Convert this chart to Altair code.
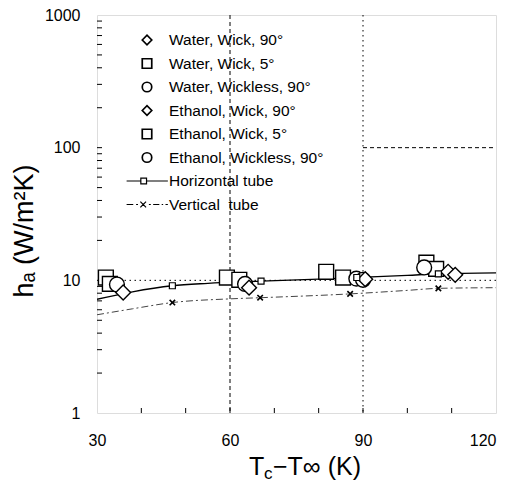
import altair as alt
import pandas as pd

FONT = "Liberation Sans"

# ---- legend labels (series) ----
labels = ["Water, Wick, 90°", "Water, Wick, 5°", "Water, Wickless, 90°",
          "Ethanol, Wick, 90°", "Ethanol, Wick, 5°", "Ethanol, Wickless, 90°",
          "Horizontal tube", "Vertical\u00a0 tube"]

# ---- measured points (T_c - T_inf [K], h_a [W/m2K]) ----
water_wick90_x = [35.9, 90.5, 109.2]
water_wick90_y = [8.1, 10.2, 11.6]
water_wick5_x = [32.0, 59.3, 81.7, 104.3]
water_wick5_y = [10.5, 10.5, 11.6, 13.6]
water_wickless_x = [34.5, 63.4, 88.5]
water_wickless_y = [9.3, 9.4, 10.3]
eth_wick90_x = [64.3, 110.8]
eth_wick90_y = [8.8, 11.0]
eth_wick5_x = [32.9, 62.1, 85.5, 106.5]
eth_wick5_y = [9.4, 10.1, 10.5, 12.2]
eth_wickless_x = [90.0, 103.8]
eth_wickless_y = [10.1, 12.5]

# ---- correlation curves ----
horiz_x = [30, 38, 47, 55, 60, 67, 80, 88.6, 100, 107, 120]
horiz_y = [7.2, 8.2, 9.1, 9.5, 9.7, 9.85, 10.2, 10.5, 10.9, 11.2, 11.4]
horiz_mark_x = [47, 67, 88.6, 107]
horiz_mark_y = [9.1, 9.85, 10.5, 11.2]
vert_x = [30, 38, 47, 60, 67, 87, 100, 107, 120]
vert_y = [5.5, 6.1, 6.8, 7.25, 7.4, 7.9, 8.4, 8.7, 8.8]
vert_mark_x = [47, 66.8, 87.1, 107]
vert_mark_y = [6.8, 7.4, 7.9, 8.7]

# ---- axis values ----
x_labels = [30, 60, 90, 120]
y_labels = [1, 10, 100, 1000]
x_minor = [40, 50, 60, 70, 80, 90, 100, 110]
y_minor = [m * d for d in (1, 10, 100) for m in range(2, 10)] + [10, 100]
x_grid_dash = [60]
x_grid_dot = [90]
y_grid_dot = [10]
y_grid_dash = [100]
y_grid_dash_from = [90]
y_grid_dash_to = [120]

H_PATH = "M-4.3,0H-1.3M-0.1,0H4.4M-1.3,-0.6H-0.1V0.6H-1.3Z"
V_PATH = ("M-4.3,0H-2.9M-2.3,0H-1.9M-1.4,-0.6L-0.2,0.6M-1.4,0.6L-0.2,-0.6"
          "M0.4,0H0.8M1.3,0H2.6M3.1,0H3.4M3.9,0H4.4")
shape_range = ["diamond", "square", "circle", "diamond", "square", "circle", H_PATH, V_PATH]

series_xy = [(water_wick5_x, water_wick5_y, labels[1]),
             (eth_wick5_x, eth_wick5_y, labels[4]),
             (water_wickless_x, water_wickless_y, labels[2]),
             (eth_wickless_x, eth_wickless_y, labels[5]),
             (water_wick90_x, water_wick90_y, labels[0]),
             (eth_wick90_x, eth_wick90_y, labels[3])]
rows = []
for xs, ys, lab in series_xy:
    for a, b in zip(xs, ys):
        rows.append({"series": lab, "x": a, "y": b})
pts = pd.DataFrame(rows)

H = 398
xscale = alt.Scale(domain=[30, 120], nice=False, zero=False)
yscale = alt.Scale(type="log", domain=[1, 1000], nice=False)
xaxis = alt.Axis(values=x_labels, title=None, grid=False, domain=False, ticks=False,
                 labelFlush=False, labelOverlap=False,
                 labelAlign=alt.ConditionalAxisLabelAlign(
                     condition={"test": "datum.value >= 120", "value": "right"}, value="center"),
                 labelFont=FONT, labelFontSize=16, labelColor="black", labelPadding=19)
yaxis = alt.Axis(values=y_labels, title=None, grid=False, domain=False, ticks=False,
                 labelFlush=False, labelOverlap=False,
                 labelFont=FONT, labelFontSize=16, labelColor="black", labelPadding=17,
                 labelExpr="datum.value")


def X(f):
    return alt.X(f"{f}:Q", scale=xscale, axis=xaxis)


def Y(f):
    return alt.Y(f"{f}:Q", scale=yscale, axis=yaxis)


# grid lines
g1 = alt.Chart(pd.DataFrame({"x": x_grid_dash})).mark_rule(
    color="black", strokeWidth=1, strokeDash=[4, 3]).encode(x=X("x"))
g2 = alt.Chart(pd.DataFrame({"x": x_grid_dot})).mark_rule(
    color="black", strokeWidth=1, strokeDash=[1.5, 3.5]).encode(x=X("x"))
g3 = alt.Chart(pd.DataFrame({"y": y_grid_dot})).mark_rule(
    color="black", strokeWidth=1, strokeDash=[1.5, 3.5]).encode(y=Y("y"))
g4 = alt.Chart(pd.DataFrame({"y": y_grid_dash, "x": y_grid_dash_from, "x2": y_grid_dash_to})).mark_rule(
    color="black", strokeWidth=1, strokeDash=[4, 3]).encode(y=Y("y"), x=X("x"), x2="x2:Q")

# inward minor ticks
ty = alt.Chart(pd.DataFrame({"y": y_minor})).mark_rule(color="black", strokeWidth=1).encode(
    y=Y("y"), x=alt.value(0), x2=alt.value(5))
tx = alt.Chart(pd.DataFrame({"x": x_minor})).mark_rule(color="black", strokeWidth=1).encode(
    x=X("x"), y=alt.value(H), y2=alt.value(H - 5))

# curves
hline = alt.Chart(pd.DataFrame({"x": horiz_x, "y": horiz_y})).mark_line(
    color="black", strokeWidth=1.3, interpolate="monotone", clip=True).encode(x=X("x"), y=Y("y"))
hmark = alt.Chart(pd.DataFrame({"x": horiz_mark_x, "y": horiz_mark_y})).mark_point(
    shape="square", size=36, filled=True, fill="white", stroke="black", strokeWidth=1.2, opacity=1
).encode(x=X("x"), y=Y("y"))
vline = alt.Chart(pd.DataFrame({"x": vert_x, "y": vert_y})).mark_line(
    color="#444444", strokeWidth=1, strokeDash=[7, 3, 2, 3], interpolate="monotone", clip=True
).encode(x=X("x"), y=Y("y"))
vmark = alt.Chart(pd.DataFrame({"x": vert_mark_x, "y": vert_mark_y})).mark_point(
    shape="M-1,-1L1,1M-1,1L1,-1", size=30, filled=False, stroke="black", strokeWidth=1.6, opacity=1
).encode(x=X("x"), y=Y("y"))

points = alt.Chart(pts).mark_point(
    size=220, filled=False, color="black", fill="white", fillOpacity=1, strokeWidth=1.4, opacity=1
).encode(
    x=X("x"), y=Y("y"),
    shape=alt.Shape("series:N", scale=alt.Scale(domain=labels, range=shape_range), legend=None),
)

# legend (drawn inside the plot, top-left)
LEG_X, LEG_Y0, LEG_DY, LEG_TX = 50, 25, 23.5, 72
legend_layers = []
for i, (lab, shp) in enumerate(zip(labels, shape_range)):
    yy = LEG_Y0 + LEG_DY * i
    legend_layers.append(
        alt.Chart(pd.DataFrame({"t": [lab]})).mark_point(
            shape=shp, size=90, filled=False, color="black", fill="white", fillOpacity=1,
            strokeWidth=1.7 if i < 6 else 1.2, opacity=1
        ).encode(x=alt.value(LEG_X), y=alt.value(yy))
    )
    legend_layers.append(
        alt.Chart(pd.DataFrame({"t": [lab]})).mark_text(
            font=FONT, fontSize=15.5, align="left", baseline="middle", color="black"
        ).encode(text="t:N", x=alt.value(LEG_TX), y=alt.value(yy))
    )

# titles as text
xt1 = alt.Chart(pd.DataFrame({"t": ["T"]})).mark_text(
    font=FONT, fontSize=25, align="left", baseline="middle", color="black"
).encode(text="t:N", x=alt.value(152), y=alt.value(H + 54))
xt2 = alt.Chart(pd.DataFrame({"t": ["c"]})).mark_text(
    font=FONT, fontSize=17, align="left", baseline="middle", color="black"
).encode(text="t:N", x=alt.value(167), y=alt.value(H + 61))
xt3 = alt.Chart(pd.DataFrame({"t": ["\u2212T\u221e (K)"]})).mark_text(
    font=FONT, fontSize=25, align="left", baseline="middle", color="black"
).encode(text="t:N", x=alt.value(176), y=alt.value(H + 54))
yt = alt.Chart(pd.DataFrame({"t": ["h\u2090 (W/m\u00b2K)"]})).mark_text(
    font=FONT, fontSize=27, align="center", baseline="middle", angle=270, color="black"
).encode(text="t:N", x=alt.value(-72), y=alt.value(216))

chart = alt.layer(g1, g2, g3, g4, ty, tx, vline, hline, points, hmark, vmark,
                  *legend_layers, xt1, xt2, xt3, yt).properties(
    width=399, height=H,
    autosize=alt.AutoSizeParams(type="none"),
    padding={"left": 89, "top": 7, "right": 5, "bottom": 71},
).configure_view(stroke="black", strokeWidth=1.5).configure(background="white")

chart.save("out.html", embed_options={"renderer": "svg", "actions": False})
